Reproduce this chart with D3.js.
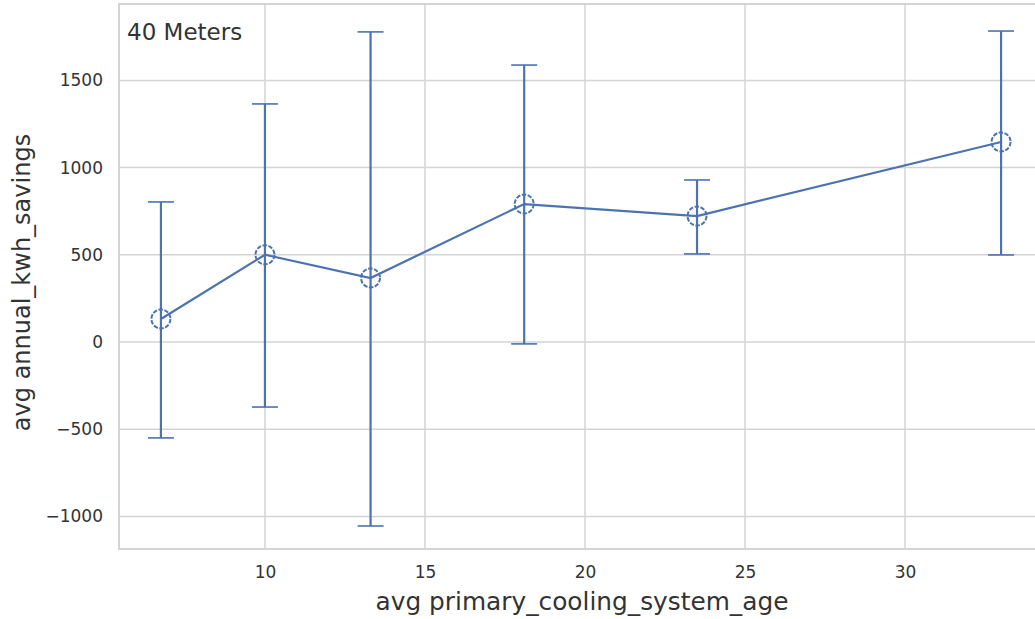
<!DOCTYPE html>
<meta charset="utf-8">
<style>
  body { margin: 0; background: #fff; }
  text { font-family: "DejaVu Sans", sans-serif; }
</style>
<script src="https://d3js.org/d3.v7.min.js"></script>
<div id="chart"></div>
<script>
// values
var ages    = [6.75, 10.0, 13.3, 18.1, 23.5, 33.0];
var savings = [132, 500, 367, 791, 722, 1147];
var errLow  = [-550, -373, -1055, -11, 505, 499];
var errHigh = [803, 1365, 1778, 1588, 929, 1783];
var xTicks  = [10, 15, 20, 25, 30];
var yTicks  = [-1000, -500, 0, 500, 1000, 1500];

var W = 1035, H = 619;
var margin = {top: 4, right: 0, bottom: 70, left: 119};
var width = W - margin.left - margin.right,
    height = H - margin.top - margin.bottom;

var svg = d3.select("#chart").append("svg")
    .attr("width", W).attr("height", H);
var g = svg.append("g")
    .attr("transform", "translate(" + margin.left + "," + margin.top + ")");

var x = d3.scaleLinear().domain([5.44, 34.06]).range([0, width]);
var y = d3.scaleLinear().domain([-1187, 1938]).range([height, 0]);

var grid = "#d4d4d4";

// grid
g.selectAll(".gx").data(xTicks).enter().append("line")
  .attr("x1", d => x(d)).attr("x2", d => x(d))
  .attr("y1", 0).attr("y2", height)
  .attr("stroke", grid).attr("stroke-width", 1.5);
g.selectAll(".gy").data(yTicks).enter().append("line")
  .attr("x1", 0).attr("x2", width)
  .attr("y1", d => y(d)).attr("y2", d => y(d))
  .attr("stroke", grid).attr("stroke-width", 1.5);

// spines (left, top, bottom)
g.append("path")
  .attr("d", "M" + width + ",0H0V" + height + "H" + width)
  .attr("fill", "none").attr("stroke", grid).attr("stroke-width", 2);

// axes
var xAxis = g.append("g").attr("transform", "translate(0," + height + ")")
  .call(d3.axisBottom(x).tickValues(xTicks).tickSize(0).tickPadding(17));
var yAxis = g.append("g")
  .call(d3.axisLeft(y).tickValues(yTicks).tickSize(0).tickPadding(16)
        .tickFormat(d => d < 0 ? "\u2212" + Math.abs(d) : d));
[xAxis, yAxis].forEach(function(a) {
  a.select(".domain").remove();
  a.selectAll("text").attr("fill", "#333").style("font-size", "17px");
});

var blue = "#4c72b0";
var data = ages.map((a, i) => ({x: a, y: savings[i], lo: errLow[i], hi: errHigh[i]}));

// error bars
var eb = g.selectAll(".eb").data(data).enter().append("g");
eb.append("line")
  .attr("x1", d => x(d.x)).attr("x2", d => x(d.x))
  .attr("y1", d => y(d.lo)).attr("y2", d => y(d.hi))
  .attr("stroke", blue).attr("stroke-width", 2.2);
eb.selectAll(".cap").data(d => [[d.x, d.lo], [d.x, d.hi]]).enter().append("line")
  .attr("x1", d => x(d[0]) - 13).attr("x2", d => x(d[0]) + 13)
  .attr("y1", d => y(d[1])).attr("y2", d => y(d[1]))
  .attr("stroke", blue).attr("stroke-width", 1.6);

// line
g.append("path").datum(data)
  .attr("d", d3.line().x(d => x(d.x)).y(d => y(d.y)))
  .attr("fill", "none").attr("stroke", blue).attr("stroke-width", 2.2);

// markers
g.selectAll(".pt").data(data).enter().append("circle")
  .attr("cx", d => x(d.x)).attr("cy", d => y(d.y)).attr("r", 9.5)
  .attr("fill", "none").attr("stroke", blue).attr("stroke-width", 2)
  .attr("stroke-dasharray", "4.5,1.5");

// labels
g.append("text").attr("x", 8).attr("y", 36)
  .attr("fill", "#333").style("font-size", "23px").text("40 Meters");

svg.append("text")
  .attr("x", margin.left + (W - margin.left) / 2 + 5).attr("y", 610)
  .attr("text-anchor", "middle").attr("fill", "#333")
  .style("font-size", "24.8px").text("avg primary_cooling_system_age");

svg.append("text")
  .attr("transform", "translate(30," + (margin.top + height / 2 + 6) + ") rotate(-90)")
  .attr("text-anchor", "middle").attr("fill", "#333")
  .style("font-size", "24px").text("avg annual_kwh_savings");
</script>
